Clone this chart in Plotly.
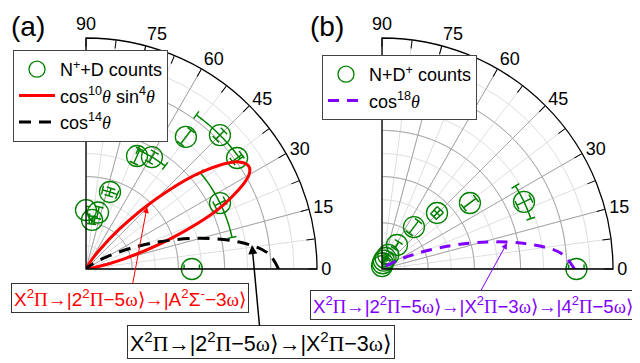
import numpy as np
import plotly.graph_objects as go

# ---------------- data ----------------
# Panel (a): N+ + D counts
theta_a = [0.0, 26.2, 36.3, 45.0, 52.9, 59.5, 65.7, 72.7, 78.0, 83.0, 90.0]
r_a = [0.55, 0.776, 0.974, 0.984, 0.86, 0.675, 0.644, 0.419, 0.30, 0.257, 0.306]
er_a = [0.04, 0.03, 0.03, 0.03, 0.045, 0.03, 0.04, 0.02, 0.03, 0.02, 0.02]
et_a = [0.0, 14.0, 0.0, 9.4, 0.0, 7.0, 0.0, 5.5, 0.0, 3.0, 0.0]

# Panel (b): N + D+ counts
theta_b = [0.0, 25.3, 36.9, 45.5, 52.7, 58.0, 66.0, 72.0, 78.0, 83.0, 90.0]
r_b = [1.01, 0.816, 0.571, 0.408, 0.274, 0.147, 0.08, 0.06, 0.045, 0.03, 0.015]
er_b = [0.04, 0.04, 0.04, 0.025, 0.04, 0.02, 0.02, 0.02, 0.02, 0.02, 0.02]
et_b = [0.0, 6.6, 0.0, 3.0, 0.0, 0.0, 0.0, 0.0, 0.0, 0.0, 0.0]

# Model curves (normalised), sampled angles
curve_theta = [0, 5, 10, 15, 20, 25, 30, 32.3, 35, 40, 45, 50, 55, 60, 65, 70, 75, 80, 85, 90]
red_r = [0.0, 0.003662, 0.05143, 0.2090, 0.4840, 0.7863, 0.9772, 1.0, 0.9702, 0.7830,
         0.5147, 0.2732, 0.1144, 0.03620, 0.00808, 0.001125, 0.0000774, 0.0, 0.0, 0.0]
black_r = [1.0, 0.9480, 0.8071, 0.6155, 0.4186, 0.2524, 0.1335, 0.0935, 0.0613, 0.02397,
           0.00781, 0.00206, 0.00042, 0.000061, 0.0, 0.0, 0.0, 0.0, 0.0, 0.0]
purple_r = [1.0, 0.9336, 0.7591, 0.5358, 0.3264, 0.1703, 0.07508, 0.0475, 0.02758, 0.00826,
            0.00195, 0.00035, 0.0, 0.0, 0.0, 0.0, 0.0, 0.0, 0.0, 0.0]

angle_ticks = [0, 15, 30, 45, 60, 75, 90]

# ---------------- styling ----------------
GREEN = "#008000"
PURPLE = "#8000ff"
FONT = "Liberation Sans, Arial, sans-serif"
RMAX = 1.2
PX_PER_UNIT = 231 / RMAX
CAP = 4.5  # px half length of error bar caps
DARK = "#a6a6a6"
LIGHT = "#dedede"
W, H = 640, 363
OFF = 8  # page body margin

SERIF = "<span style=\"font-family:'Liberation Serif','Times New Roman',serif\">{}</span>"
TH = SERIF.format("<i>θ</i>")
PI = SERIF.format("Π")
OM = SERIF.format("ω")


def px(X):
    return (X - OFF) / W


def py(Y):
    return 1 - (Y - OFF) / H


def error_paths(th, r, er, et):
    T, R = [], []
    cr = CAP / PX_PER_UNIT
    for t, rr, e, a in zip(th, r, er, et):
        if e > 0:
            T += [t, t, None]
            R += [rr - e, rr + e, None]
            for re_ in (rr - e, rr + e):
                d = np.degrees(CAP / (re_ * PX_PER_UNIT))
                T += [t - d, t + d, None]
                R += [re_, re_, None]
        if a > 0:
            ts = list(np.linspace(t - a, t + a, 25))
            T += ts + [None]
            R += [rr] * 25 + [None]
            for ta in (t - a, t + a):
                T += [ta, ta, None]
                R += [rr - cr, rr + cr, None]
    return T, R


def grid_traces(sub):
    out = []
    arc = list(np.linspace(0, 90, 91))
    for rr in [0.24, 0.48, 0.72, 0.96]:
        out.append(go.Scatterpolar(theta=arc, r=[rr] * 91, mode="lines",
                                   line=dict(color=DARK, width=1), showlegend=False,
                                   hoverinfo="skip", subplot=sub))
    for a in angle_ticks:
        out.append(go.Scatterpolar(theta=[a, a], r=[0, RMAX], mode="lines",
                                   line=dict(color=DARK, width=1), showlegend=False,
                                   hoverinfo="skip", subplot=sub))
    return out


fig = go.Figure()

# panel (a)
for tr in grid_traces("polar"):
    fig.add_trace(tr)
T, R = error_paths(theta_a, r_a, er_a, et_a)
fig.add_trace(go.Scatterpolar(theta=T, r=R, mode="lines", line=dict(color=GREEN, width=1.5),
                              showlegend=False, hoverinfo="skip", subplot="polar"))
fig.add_trace(go.Scatterpolar(theta=theta_a, r=r_a, mode="markers", name="N<sup>+</sup>+D counts",
                              marker=dict(symbol="circle-open", size=21, color=GREEN,
                                          line=dict(width=1.3, color=GREEN)),
                              subplot="polar", legend="legend"))
fig.add_trace(go.Scatterpolar(theta=curve_theta, r=red_r, mode="lines",
                              name="cos<sup>10</sup>" + TH + " sin<sup>4</sup>" + TH,
                              line=dict(color="red", width=3, shape="spline"),
                              subplot="polar", legend="legend"))
fig.add_trace(go.Scatterpolar(theta=curve_theta, r=black_r, mode="lines",
                              name="cos<sup>14</sup>" + TH,
                              line=dict(color="black", width=3, dash="12px,8px", shape="spline"),
                              subplot="polar", legend="legend"))

# panel (b)
for tr in grid_traces("polar2"):
    fig.add_trace(tr)
T, R = error_paths(theta_b, r_b, er_b, et_b)
fig.add_trace(go.Scatterpolar(theta=T, r=R, mode="lines", line=dict(color=GREEN, width=1.5),
                              showlegend=False, hoverinfo="skip", subplot="polar2"))
fig.add_trace(go.Scatterpolar(theta=theta_b, r=r_b, mode="markers", name="N+D<sup>+</sup> counts",
                              marker=dict(symbol="circle-open", size=21, color=GREEN,
                                          line=dict(width=1.3, color=GREEN)),
                              subplot="polar2", legend="legend2"))
fig.add_trace(go.Scatterpolar(theta=curve_theta, r=purple_r, mode="lines",
                              name="cos<sup>18</sup>" + TH,
                              line=dict(color=PURPLE, width=3, dash="11px,8px", shape="spline"),
                              subplot="polar2", legend="legend2"))

tickvals = [i * 7.5 for i in range(13)]
ticktext = [str(int(v)) if v % 15 == 0 else "" for v in tickvals]


def polar_layout(x0):
    return dict(
        domain=dict(x=[px(x0), px(x0 + 231)], y=[py(269), py(38)]),
        sector=[0, 90],
        bgcolor="white",
        angularaxis=dict(direction="counterclockwise", rotation=0, tickvals=tickvals,
                         ticktext=ticktext, ticks="inside", ticklen=8, tickcolor="black",
                         tickwidth=1, showline=True, linecolor="black", linewidth=1.3,
                         showgrid=True, gridcolor=LIGHT, gridwidth=1,
                         tickfont=dict(size=18, color="black", family=FONT)),
        radialaxis=dict(range=[0, RMAX], tickvals=[0.12 * k for k in range(1, 10)],
                        showticklabels=False, ticks="", showline=False,
                        gridcolor=LIGHT, gridwidth=1),
    )


def box(x, y, ax, ay, text, color, size, aw):
    return dict(x=px(x), y=py(y), xref="paper", yref="paper", ax=ax, ay=ay, text=text,
                font=dict(color=color, size=size, family=FONT), bgcolor="white",
                bordercolor="#333", borderwidth=1, borderpad=2, showarrow=True,
                arrowcolor=color, arrowwidth=aw, arrowhead=2, arrowsize=1.2)


legend_common = dict(xanchor="left", yanchor="top", bgcolor="white", bordercolor="#444",
                     borderwidth=1, itemwidth=36, font=dict(size=18, family=FONT))

fig.update_layout(
    width=W, height=H, margin=dict(l=0, r=0, t=0, b=0),
    paper_bgcolor="white", font=dict(family=FONT, color="black"),
    polar=polar_layout(86), polar2=polar_layout(382),
    legend=dict(x=px(13), y=py(50), **legend_common),
    legend2=dict(x=px(322), y=py(55), **legend_common),
    annotations=[
        dict(x=px(28), y=py(27), xref="paper", yref="paper", text="(a)", showarrow=False,
             xanchor="center", yanchor="middle", font=dict(size=28, family=FONT)),
        dict(x=px(327), y=py(27), xref="paper", yref="paper", text="(b)", showarrow=False,
             xanchor="center", yanchor="middle", font=dict(size=28, family=FONT)),
        box(147, 207, -17, 91,
            "X<sup>2</sup>" + PI + "→|2<sup>2</sup>" + PI + "−5" + OM + "⟩→|A<sup>2</sup>Σ<sup>-</sup>−3" + OM + "⟩",
            "red", 19, 1),
        box(252, 245, 9, 97,
            "X<sup>2</sup>" + PI + "→|2<sup>2</sup>" + PI + "−5" + OM + "⟩→|X<sup>2</sup>" + PI + "−3" + OM + "⟩",
            "black", 21.5, 1.5),
        box(507, 243, -34, 62,
            "X<sup>2</sup>" + PI + "→|2<sup>2</sup>" + PI + "−5" + OM + "⟩→|X<sup>2</sup>" + PI
            + "−3" + OM + "⟩→|4<sup>2</sup>" + PI + "−5" + OM + "⟩",
            PURPLE, 18.6, 1),
    ],
)

fig.write_html("out.html")
